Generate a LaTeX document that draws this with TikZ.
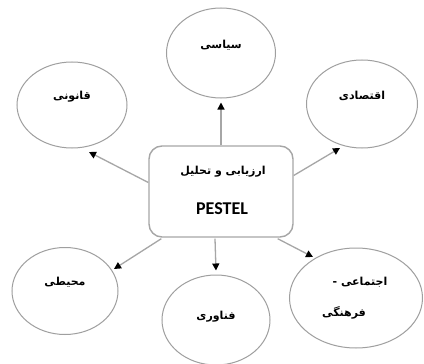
\documentclass[tikz,border=0pt]{standalone}
\usepackage{fontspec}
\usetikzlibrary{arrows.meta,shapes.geometric,calc}
\TeXXeTstate=1
\newfontfamily\arabicfont[Script=Arabic,BoldFont={DejaVu Sans Bold}]{DejaVu Sans}
\newfontfamily\latinbold{Carlito}
\tikzset{
  oval/.style={draw=gray!75,line width=1pt,ellipse,inner sep=0pt},
  centerbox/.style={draw=gray!70,line width=1.4pt,rounded corners=13pt,inner sep=0pt},
  lbl/.style={font=\arabicfont\bfseries\fontsize{11}{13}\selectfont,inner sep=0pt,align=center},
  conn/.style={draw=gray!70,line width=1.3pt,-{Triangle[length=7pt,width=7pt,color=black]}}
}
\begin{document}
\begin{tikzpicture}[x=1pt,y=-1pt]
\useasboundingbox[fill=white] (0,0) rectangle (424,364);
% center box
\node[centerbox,minimum width=144pt,minimum height=91pt] (box) at (221,191.5) {};
\node[lbl,font=\arabicfont\bfseries\fontsize{11}{13}\selectfont] (boxt1) at (223,172) {\beginR ارزیابی و تحلیل\endR};
\node[font=\latinbold\bfseries\fontsize{18}{20}\selectfont,inner sep=0pt] (boxt2) at (222,209) {PESTEL};
% ellipses
\node[oval,minimum width=109pt,minimum height=90pt] (pol) at (221,53) {};
\node[lbl] (polt) at (221,45) {\beginR سیاسی\endR};
\node[oval,minimum width=110pt,minimum height=86pt] (law) at (72,105) {};
\node[lbl] (lawt) at (72,97) {\beginR قانونی\endR};
\node[oval,minimum width=111pt,minimum height=88pt] (eco) at (362,104) {};
\node[lbl] (ecot) at (362,96) {\beginR اقتصادی\endR};
\node[oval,minimum width=106pt,minimum height=87pt] (env) at (65,291) {};
\node[lbl] (envt) at (65,282) {\beginR محیطی\endR};
\node[oval,minimum width=108pt,minimum height=90pt] (tech) at (216,320) {};
\node[lbl] (techt) at (216,317) {\beginR فناوری\endR};
\node[oval,minimum width=133pt,minimum height=100pt] (soc) at (356,298) {};
\node[lbl] (soct1) at (360,282) {\beginR اجتماعی -\endR};
\node[lbl] (soct2) at (344,313) {\beginR فرهنگی\endR};
% connector end points
\coordinate (tLaw) at (89,152);
\coordinate (tEco) at (340,148);
\coordinate (tEnv) at (114,269);
\coordinate (tSoc) at (313,257);
% connectors
\draw[conn] (box.north) -- ($(pol.south)+(0,4)$);
\draw[conn] ($(box.west)+(0,-9)$) -- (tLaw);
\draw[conn] ($(box.east)+(0,-16)$) -- (tEco);
\draw[conn] ($(box.south west)+(13,1)$) -- (tEnv);
\draw[conn] ($(box.south)+(-6,1)$) -- ($(tech.north)+(0,-4)$);
\draw[conn] ($(box.south east)+(-16,1)$) -- (tSoc);
\end{tikzpicture}
\end{document}
